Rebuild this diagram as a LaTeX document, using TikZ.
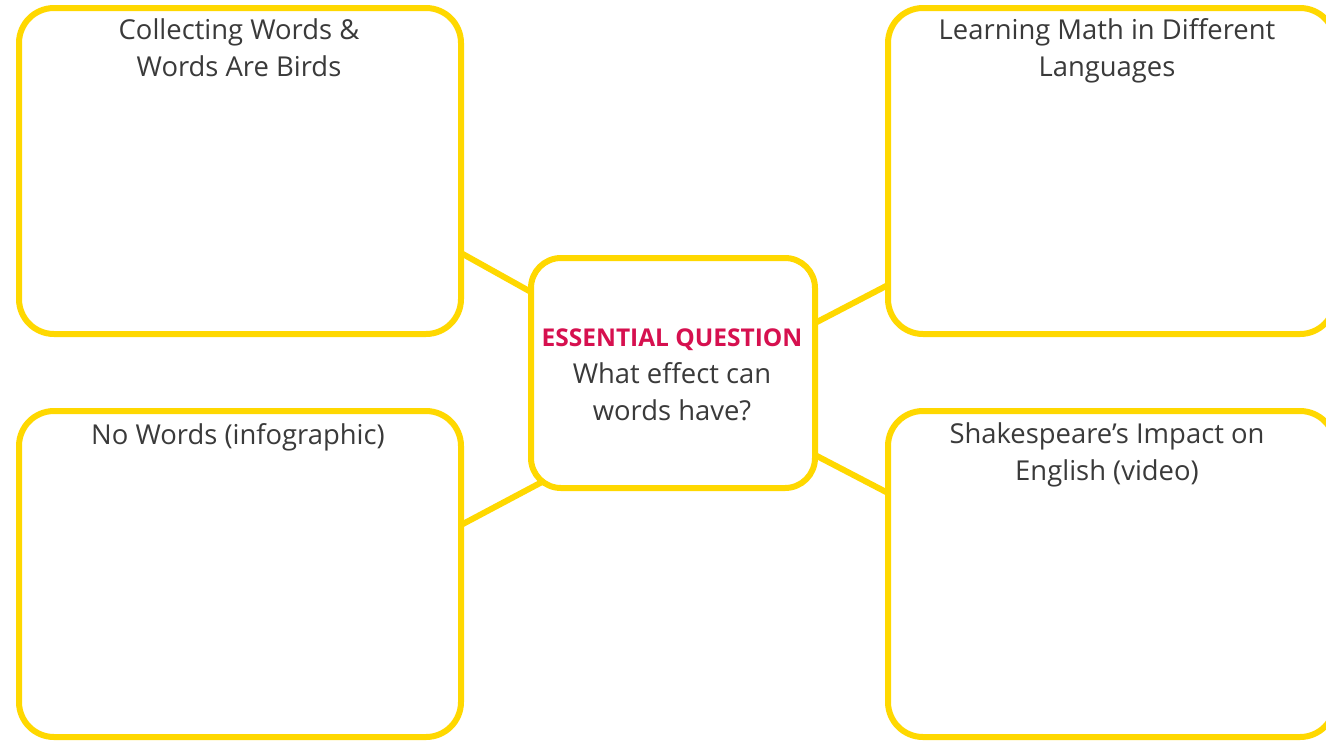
\documentclass[tikz,border=0pt]{standalone}
\usepackage{fontspec}
\setmainfont{Open Sans}
\usetikzlibrary{calc}
\definecolor{frame}{RGB}{255,216,0}
\definecolor{eqred}{RGB}{214,16,79}
\definecolor{ink}{RGB}{58,58,58}
\begin{document}
\begin{tikzpicture}[x=1pt,y=-1pt,
  panel/.style={draw=frame, line width=6pt, rounded corners=35pt, fill=white,
    inner sep=0pt, outer sep=0pt, minimum width=442pt, minimum height=326pt},
  hub/.style={draw=frame, line width=6pt, rounded corners=30pt, fill=white,
    inner sep=0pt, outer sep=0pt, minimum width=284pt, minimum height=230pt},
  title/.style={text=ink, align=center, inner sep=0pt,
    font=\fontsize{27.4}{37}\selectfont},
  link/.style={draw=frame, line width=6pt}]
\useasboundingbox (0,0) rectangle (1326,740);

% four topic panels
\node[panel] (tl) at (240,171) {};
\node[panel] (bl) at (240,574) {};
\node[panel, minimum width=447pt] (tr) at (1111.5,171) {};
\node[panel, minimum width=447pt] (br) at (1111.5,574) {};

% central question
\node[hub] (hub) at (673,373) {};

% spokes from the panels to the central question
\draw[link] ([yshift=-82pt]tl.east) -- ([yshift=81pt]hub.west);
\draw[link] ([yshift=50pt]hub.east) -- ([yshift=-114pt]tr.west);
\draw[link] ([yshift=49pt]bl.east) -- ([xshift=11pt,yshift=6pt]hub.south west);
\draw[link] ([yshift=-82pt]hub.east) -- ([yshift=81pt]br.west);

% panel titles
\node[title] (tlt) at (239,48) {Collecting Words \&\\Words Are Birds};
\node[title] (blt) at (238,437) {No Words (infographic)};
\node[title] (trt) at (1107,51) {Learning Math in Different\\Languages};
\node[title] (brt) at (1107,455) {Shakespeare’s Impact on\\English (video)};

\node[title] (hubt) at (672,375) {{\color{eqred}\bfseries\fontsize{24.5}{37}\selectfont ESSENTIAL QUESTION}\\What effect can\\words have?};
\end{tikzpicture}
\end{document}
